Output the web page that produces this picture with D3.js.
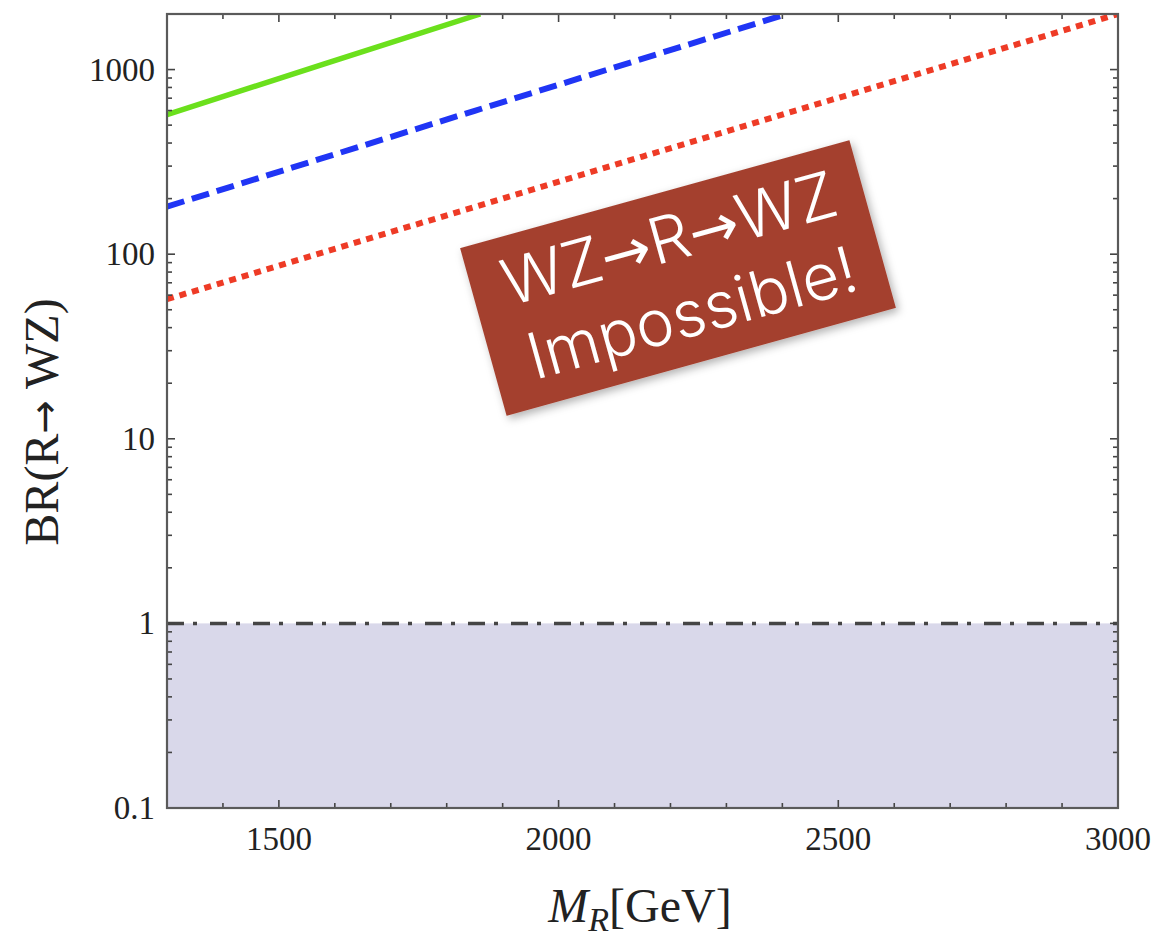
<!DOCTYPE html>
<html>
<head>
<meta charset="utf-8">
<script src="https://cdn.jsdelivr.net/npm/d3@7"></script>
<style>
  body { margin: 0; background: #fff; }
  text { font-family: "Liberation Serif", "DejaVu Serif", serif; }
</style>
</head>
<body>
<script>
// values
var xTicks = [1500, 2000, 2500, 3000];
var yTicks = [0.1, 1, 10, 100, 1000];
var xDomain = [1300, 3000];
var yDomain = [0.1, 2000];

// mass (GeV) and BR points for each curve
var greenM = [1300, 1580, 1860];
var greenBR = [570, 1070, 2000];
var blueM = [1300, 1850, 2408];
var blueBR = [181, 598, 2000];
var redM = [1300, 2150, 3000];
var redBR = [57, 338, 2000];

var unitLine = 1;       // BR = 1 limit
var shadeLow = 0.1;     // shaded band runs from 0.1 up to 1

var margin = {top: 14, right: 38, bottom: 129, left: 167},
    width = 1156 - margin.left - margin.right,
    height = 937 - margin.top - margin.bottom;

var svg = d3.select("body").append("svg")
    .attr("width", 1156)
    .attr("height", 937);

var defs = svg.append("defs");
defs.append("clipPath").attr("id", "plotclip")
    .append("rect").attr("width", width).attr("height", height);

var shadow = defs.append("filter").attr("id", "shadow")
    .attr("x", "-10%").attr("y", "-10%")
    .attr("width", "130%").attr("height", "140%");
shadow.append("feDropShadow")
    .attr("dx", 2).attr("dy", 4).attr("stdDeviation", 4)
    .attr("flood-color", "#000").attr("flood-opacity", 0.3);

var g = svg.append("g")
    .attr("transform", "translate(" + margin.left + "," + margin.top + ")");

var x = d3.scaleLinear().domain(xDomain).range([0, width]);
var y = d3.scaleLog().domain(yDomain).range([height, 0]);

// shaded region below BR = 1
g.append("rect")
    .attr("x", 0)
    .attr("y", y(unitLine))
    .attr("width", width)
    .attr("height", y(shadeLow) - y(unitLine))
    .attr("fill", "#d9d8ea");

var plot = g.append("g").attr("clip-path", "url(#plotclip)");

var line = d3.line()
    .x(function(d) { return x(d[0]); })
    .y(function(d) { return y(d[1]); });

function pairs(ms, brs) {
    return ms.map(function(m, i) { return [m, brs[i]]; });
}

plot.append("path")
    .datum(pairs(greenM, greenBR))
    .attr("d", line)
    .attr("fill", "none")
    .attr("stroke", "#6be01c")
    .attr("stroke-width", 5.5);

plot.append("path")
    .datum(pairs(blueM, blueBR))
    .attr("d", line)
    .attr("fill", "none")
    .attr("stroke", "#2035f5")
    .attr("stroke-width", 6)
    .attr("stroke-dasharray", "18,8");

plot.append("path")
    .datum(pairs(redM, redBR))
    .attr("d", line)
    .attr("fill", "none")
    .attr("stroke", "#ee3b26")
    .attr("stroke-width", 6)
    .attr("stroke-dasharray", "7,6");

plot.append("path")
    .datum([[xDomain[0], unitLine], [xDomain[1], unitLine]])
    .attr("d", line)
    .attr("fill", "none")
    .attr("stroke", "#454545")
    .attr("stroke-width", 3.5)
    .attr("stroke-dasharray", "17,9,4,13");

// frame + ticks (ticks point inward on all four sides)
var xMinor = d3.range(xDomain[0], xDomain[1] + 1, 100);
var yMinor = [];
[0.1, 1, 10, 100, 1000].forEach(function(p) {
    for (var k = 1; k < 10; k++) {
        var v = p * k;
        if (v <= yDomain[1]) yMinor.push(v);
    }
});

function isMajorX(v) { return xTicks.indexOf(v) >= 0; }
function isMajorY(v) { return yTicks.indexOf(v) >= 0; }

var ticks = g.append("g").attr("stroke", "#444").attr("stroke-width", 1.6);

xMinor.forEach(function(v) {
    var len = isMajorX(v) ? 8 : 5;
    ticks.append("line").attr("x1", x(v)).attr("x2", x(v))
        .attr("y1", height).attr("y2", height - len);
    ticks.append("line").attr("x1", x(v)).attr("x2", x(v))
        .attr("y1", 0).attr("y2", len);
});
yMinor.forEach(function(v) {
    var len = isMajorY(v) ? 8 : 5;
    ticks.append("line").attr("x1", 0).attr("x2", len)
        .attr("y1", y(v)).attr("y2", y(v));
    ticks.append("line").attr("x1", width).attr("x2", width - len)
        .attr("y1", y(v)).attr("y2", y(v));
});

g.append("rect")
    .attr("width", width).attr("height", height)
    .attr("fill", "none")
    .attr("stroke", "#5a5a5a")
    .attr("stroke-width", 2.2);

// tick labels
g.selectAll(".xlab")
    .data(xTicks)
    .enter().append("text")
    .attr("class", "xlab")
    .attr("x", function(d) { return x(d); })
    .attr("y", height + 42)
    .attr("text-anchor", "middle")
    .attr("font-size", 33)
    .attr("fill", "#222")
    .text(function(d) { return d; });

g.selectAll(".ylab")
    .data(yTicks)
    .enter().append("text")
    .attr("class", "ylab")
    .attr("x", -12)
    .attr("y", function(d) { return y(d) + 11; })
    .attr("text-anchor", "end")
    .attr("font-size", 33)
    .attr("fill", "#222")
    .text(function(d) { return d; });

// axis titles
var xt = svg.append("text")
    .attr("x", 640)
    .attr("y", 922)
    .attr("text-anchor", "middle")
    .attr("font-size", 48)
    .attr("fill", "#222");
xt.append("tspan").attr("font-style", "italic").text("M");
xt.append("tspan").attr("font-style", "italic").attr("font-size", 34)
    .attr("dy", 9).text("R");
xt.append("tspan").attr("dy", -9).text("[GeV]");

var yt = svg.append("text")
    .attr("transform", "translate(58,422) rotate(-90)")
    .attr("text-anchor", "middle")
    .attr("font-size", 48)
    .attr("fill", "#222");
yt.append("tspan").text("BR(R");
yt.append("tspan").style("font-family", "'DejaVu Sans'")
    .attr("font-size", 40).text("\u2192");
yt.append("tspan").text(" WZ)");

// the rotated sticker
var note = svg.append("g")
    .attr("transform", "translate(678,278) rotate(-15.5)");
note.append("rect")
    .attr("x", -202).attr("y", -87)
    .attr("width", 404).attr("height", 174)
    .attr("fill", "#a43f2d")
    .attr("filter", "url(#shadow)");

var noteFont = "Inter, 'Open Sans', Lato, sans-serif";
var l1 = note.append("text")
    .attr("x", 2).attr("y", -18)
    .attr("text-anchor", "middle")
    .attr("font-size", 64)
    .attr("font-weight", 300)
    .style("font-family", noteFont)
    .attr("fill", "#fff");
l1.append("tspan").text("WZ");
l1.append("tspan").style("font-family", "'DejaVu Sans'")
    .attr("font-weight", 400).attr("font-size", 60).text("\u2192");
l1.append("tspan").text("R");
l1.append("tspan").style("font-family", "'DejaVu Sans'")
    .attr("font-weight", 400).attr("font-size", 60).text("\u2192");
l1.append("tspan").text("WZ");

note.append("text")
    .attr("x", 4).attr("y", 60)
    .attr("text-anchor", "middle")
    .attr("font-size", 64)
    .attr("font-weight", 300)
    .style("font-family", noteFont)
    .attr("fill", "#fff")
    .text("Impossible!");
</script>
</body>
</html>
